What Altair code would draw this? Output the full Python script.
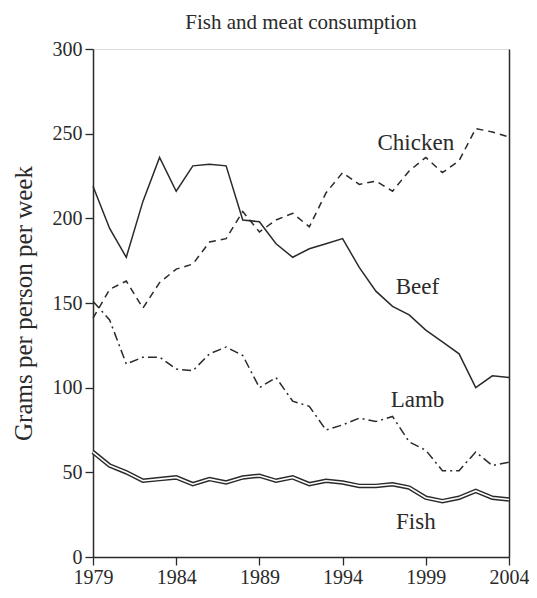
import altair as alt
import pandas as pd

years = list(range(1979, 2005))
beef = [219, 194, 177, 210, 236, 216, 231, 232, 231, 199, 198, 185, 177, 182, 185, 188, 171, 157, 148, 143, 134, 127, 120, 100, 107, 106]
chicken = [141, 158, 163, 147, 162, 170, 173, 186, 188, 204, 192, 199, 203, 195, 215, 227, 220, 222, 216, 228, 236, 227, 234, 253, 251, 248]
lamb = [151, 140, 114, 118, 118, 111, 110, 120, 124, 119, 100, 106, 92, 89, 75, 78, 82, 80, 83, 68, 63, 51, 51, 62, 54, 56]
fish = [62, 54, 50, 45, 46, 47, 43, 46, 44, 47, 48, 45, 47, 43, 45, 44, 42, 42, 43, 41, 35, 33, 35, 39, 35, 34]

label_names = ["Chicken", "Beef", "Lamb", "Fish"]
label_years = [1998.4, 1998.5, 1998.5, 1998.4]
label_values = [244.6, 159.5, 92.7, 20.5]

x_ticks = [1979, 1984, 1989, 1994, 1999, 2004]
y_ticks = [0, 50, 100, 150, 200, 250, 300]

FONT = "Liberation Serif"
INK = "#2a2a2a"

def frame(name, vals):
    return pd.DataFrame({"year": years, "value": vals, "series": name})

df_beef = frame("Beef", beef)
df_chicken = frame("Chicken", chicken)
df_lamb = frame("Lamb", lamb)
df_fish = frame("Fish", fish)
df_labels = pd.DataFrame({"year": label_years, "value": label_values, "label": label_names})

xenc = alt.X("year:Q",
             scale=alt.Scale(domain=[1979, 2004], nice=False, zero=False),
             axis=alt.Axis(values=x_ticks, format="d", title=None, grid=False,
                           tickSize=8, labelPadding=2, labelFontSize=20,
                           labelFlush=False, labelOverlap=False,
                           labelFont=FONT, labelColor=INK, domainColor=INK,
                           tickColor=INK, domainWidth=1.5, tickWidth=1.3))
yscale = alt.Scale(domain=[0, 300], nice=False)
yenc = alt.Y("value:Q", scale=yscale,
             axis=alt.Axis(values=y_ticks, title="Grams per person per week",
                           grid=False, tickSize=8, labelPadding=3,
                           labelFlush=False, labelOverlap=False,
                           labelFontSize=20, labelFont=FONT, labelColor=INK,
                           titleFont=FONT, titleFontSize=25, titleFontWeight="normal",
                           titleColor=INK, titlePadding=16,
                           domainColor=INK, tickColor=INK, domainWidth=1.5, tickWidth=1.3))

def line(df, dash=None, width=1.5, color=INK):
    kw = dict(color=color, strokeWidth=width, strokeJoin="miter")
    if dash:
        kw["strokeDash"] = dash
    return alt.Chart(df).mark_line(**kw).encode(x=xenc, y=yenc)

beef_l = line(df_beef)
chicken_l = line(df_chicken, dash=[7, 5])
lamb_l = line(df_lamb, dash=[9, 4, 2, 4])
fish_outer = line(df_fish, width=4.5)
fish_inner = line(df_fish, width=1.6, color="white")

labels = alt.Chart(df_labels).mark_text(font=FONT, fontSize=23, color=INK).encode(
    x=xenc, y=yenc, text="label:N")

inner = alt.layer(beef_l, chicken_l, lamb_l, fish_outer, fish_inner, labels)

right_axis = alt.Chart(df_beef).mark_line(opacity=0).encode(
    x=xenc,
    y=alt.Y("value:Q", scale=yscale,
            axis=alt.Axis(orient="right", labels=False, ticks=False, title=None,
                          grid=False, domainColor=INK, domainWidth=1.5)))

chart = alt.layer(inner, right_axis).resolve_scale(y="independent").properties(
    width=416, height=508,
    autosize=alt.AutoSizeParams(type="none"),
    padding={"left": 85, "top": 41, "right": 20, "bottom": 33},
    title=alt.TitleParams("Fish and meat consumption", font=FONT, fontSize=21,
                          fontWeight="normal", color=INK, anchor="middle",
                          frame="group", offset=6),
).configure_view(stroke=None).configure(background="white")

chart.save("out.html", embed_options={"renderer": "svg", "actions": False})
